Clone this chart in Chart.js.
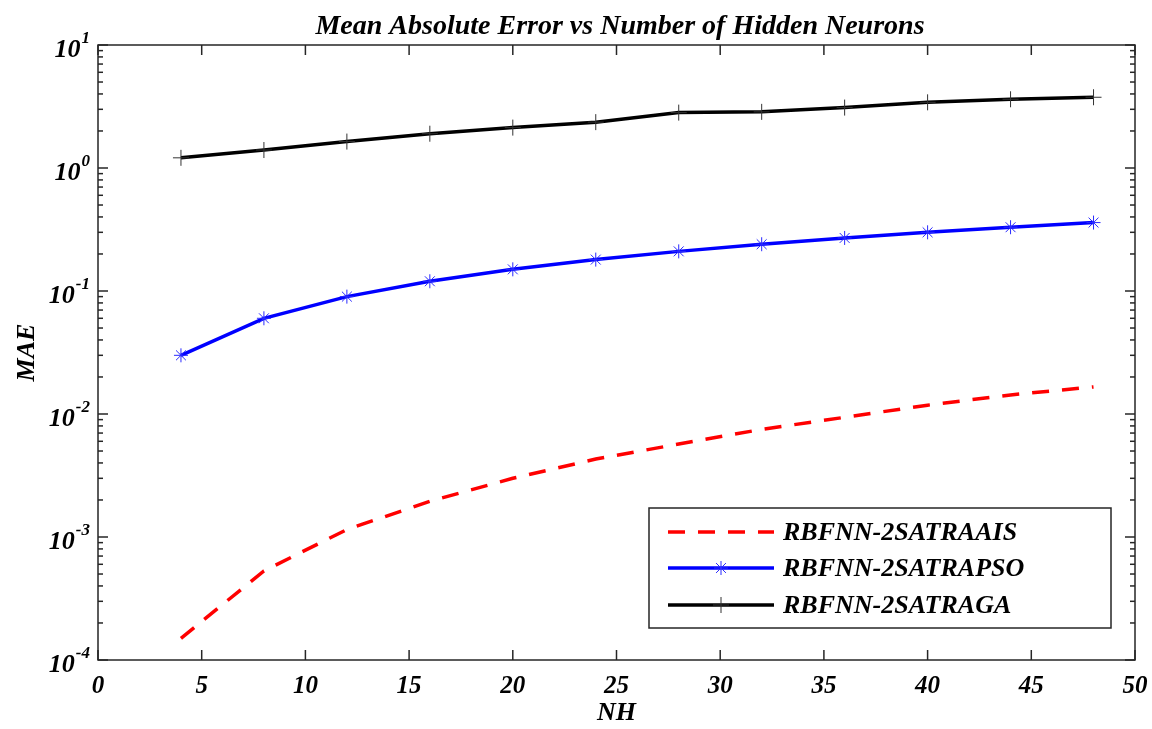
<!DOCTYPE html>
<html>
<head>
<meta charset="utf-8">
<title>MAE vs NH</title>
<script src="https://cdn.jsdelivr.net/npm/chart.js@4.4.1/dist/chart.umd.min.js"></script>
<style>
  html, body { margin: 0; padding: 0; background: #fff; }
  #wrap { width: 1152px; height: 729px; position: relative; }
</style>
</head>
<body>
<div id="wrap"><canvas id="maeChart"></canvas></div>
<script>
	// data
	var nh = [4, 8, 12, 16, 20, 24, 28, 32, 36, 40, 44, 48];
	var maeAIS = [0.00015, 0.00053, 0.00115, 0.00195, 0.0030, 0.0043, 0.0057, 0.0075, 0.0094, 0.0118, 0.0143, 0.0166];
	var maePSO = [0.03, 0.06, 0.09, 0.12, 0.15, 0.18, 0.21, 0.24, 0.27, 0.30, 0.33, 0.36];
	var maeGA = [1.21, 1.40, 1.64, 1.90, 2.13, 2.36, 2.82, 2.86, 3.10, 3.42, 3.62, 3.76];
	var seriesNames = ['RBFNN-2SATRAAIS', 'RBFNN-2SATRAPSO', 'RBFNN-2SATRAGA'];
	var xTicks = [0, 5, 10, 15, 20, 25, 30, 35, 40, 45, 50];
	var yExponents = [-4, -3, -2, -1, 0, 1];

	var serif = "'Liberation Serif', 'Times New Roman', serif";
	var axisCol = '#262626';

	function pts(vals) {
		return nh.map(function (n, i) { return {x: n, y: vals[i]}; });
	}

	function seg(ctx, x1, y1, x2, y2) {
		ctx.beginPath(); ctx.moveTo(x1, y1); ctx.lineTo(x2, y2); ctx.stroke();
	}

	// box, inward ticks, y labels with superscripts, title
	var matlabAxes = {
		id: 'matlabAxes',
		afterDraw: function (chart) {
			var ctx = chart.ctx, a = chart.chartArea;
			var xs = chart.scales.x, ys = chart.scales.y;
			ctx.save();
			ctx.strokeStyle = axisCol;
			ctx.lineWidth = 1.5;
			ctx.strokeRect(a.left, a.top, a.right - a.left, a.bottom - a.top);

			xTicks.forEach(function (v) {
				var px = xs.getPixelForValue(v);
				seg(ctx, px, a.bottom, px, a.bottom - 10);
				seg(ctx, px, a.top, px, a.top + 10);
			});

			for (var k = -4; k <= 1; k++) {
				for (var m = 1; m <= 9; m++) {
					var v = m * Math.pow(10, k);
					if (v > 10.0001) break;
					var py = ys.getPixelForValue(v);
					var len = (m == 1) ? 10 : 5;
					seg(ctx, a.left, py, a.left + len, py);
					seg(ctx, a.right, py, a.right - len, py);
				}
			}

			// y tick labels 10^k
			ctx.fillStyle = '#000';
			ctx.textBaseline = 'middle';
			yExponents.forEach(function (e) {
				var py = ys.getPixelForValue(Math.pow(10, e));
				ctx.font = 'italic bold 17px ' + serif;
				var expTxt = String(e);
				var ew = ctx.measureText(expTxt).width;
				ctx.textAlign = 'left';
				var right = a.left - 8;
				ctx.fillText(expTxt, right - ew, py - 6);
				ctx.font = 'italic bold 26px ' + serif;
				ctx.textAlign = 'right';
				ctx.fillText('10', right - ew - 1, py + 5);
			});

			// title
			ctx.font = 'italic bold 28px ' + serif;
			ctx.textAlign = 'center';
			ctx.textBaseline = 'alphabetic';
			ctx.fillText('Mean Absolute Error vs Number of Hidden Neurons', 620, 34);
			ctx.restore();
		}
	};

	// legend box inside the axes, lower right
	var boxLegend = {
		id: 'boxLegend',
		afterDraw: function (chart) {
			var ctx = chart.ctx;
			var bx = 649, by = 508, bw = 462, bh = 120;
			ctx.save();
			ctx.fillStyle = '#fff';
			ctx.fillRect(bx, by, bw, bh);
			ctx.strokeStyle = axisCol;
			ctx.lineWidth = 1.5;
			ctx.strokeRect(bx, by, bw, bh);
			var rows = [532, 568, 605];
			chart.data.datasets.forEach(function (ds, i) {
				var y = rows[i];
				ctx.strokeStyle = ds.borderColor;
				ctx.lineWidth = ds.borderWidth;
				ctx.setLineDash(ds.borderDash || []);
				seg(ctx, 668, y, 774, y);
				ctx.setLineDash([]);
				if (ds.pointRadius > 0) {
					ctx.strokeStyle = ds.pointBorderColor;
					ctx.fillStyle = ds.pointBackgroundColor;
					ctx.lineWidth = ds.pointBorderWidth;
					Chart.helpers.drawPoint(ctx, {
						pointStyle: ds.pointStyle, radius: ds.pointRadius,
						rotation: 0, borderWidth: ds.pointBorderWidth
					}, 721, y);
				}
				ctx.fillStyle = '#000';
				ctx.font = 'italic bold 26px ' + serif;
				ctx.textAlign = 'left';
				ctx.textBaseline = 'middle';
				ctx.fillText(ds.label, 783, y + 1);
			});
			ctx.restore();
		}
	};

	var ctx = document.getElementById('maeChart').getContext('2d');
	var myChart = new Chart(ctx, {
		type: 'line',
		data: {
			datasets: [{
				label: seriesNames[0],
				data: pts(maeAIS),
				borderColor: '#ff0000',
				borderWidth: 3.5,
				borderDash: [17, 13],
				pointRadius: 0,
				pointStyle: false,
				tension: 0
			}, {
				label: seriesNames[1],
				data: pts(maePSO),
				borderColor: '#0000ff',
				borderWidth: 3.5,
				pointStyle: 'star',
				pointRadius: 7,
				pointBorderWidth: 1,
				pointBorderColor: '#2a2aff',
				pointBackgroundColor: '#2a2aff',
				tension: 0
			}, {
				label: seriesNames[2],
				data: pts(maeGA),
				borderColor: '#000000',
				borderWidth: 3.5,
				pointStyle: 'cross',
				pointRadius: 8,
				pointBorderWidth: 1,
				pointBorderColor: '#333333',
				pointBackgroundColor: '#333333',
				tension: 0
			}]
		},
		options: {
			responsive: true,
			maintainAspectRatio: false,
			animation: false,
			layout: { padding: { top: 45, right: 17, left: 0, bottom: 0 } },
			plugins: {
				legend: { display: false },
				title: { display: false },
				tooltip: { enabled: false }
			},
			scales: {
				x: {
					type: 'linear',
					min: 0,
					max: 50,
					afterBuildTicks: function (s) { s.ticks = xTicks.map(function (v) { return {value: v}; }); },
					grid: { display: false, drawTicks: false },
					border: { display: false },
					ticks: {
						color: '#000',
						padding: 12,
						maxRotation: 0,
						font: { family: serif, size: 25, style: 'italic', weight: 'bold' }
					},
					title: {
						display: true,
						text: 'NH',
						color: '#000',
						padding: { top: 0, bottom: 0 },
						font: { family: serif, size: 26, style: 'italic', weight: 'bold' }
					},
					afterFit: function (s) { s.height = 69; s.paddingLeft = 0; s.paddingRight = 0; }
				},
				y: {
					type: 'logarithmic',
					min: 0.0001,
					max: 10,
					grid: { display: false, drawTicks: false },
					border: { display: false },
					ticks: { callback: function () { return ''; } },
					title: {
						display: true,
						text: 'MAE',
						color: '#000',
						padding: { top: 12, bottom: 0 },
						font: { family: serif, size: 26, style: 'italic', weight: 'bold' }
					},
					afterFit: function (s) { s.width = 98; s.paddingTop = 0; s.paddingBottom = 0; }
				}
			}
		},
		plugins: [matlabAxes, boxLegend]
	});
</script>
</body>
</html>
